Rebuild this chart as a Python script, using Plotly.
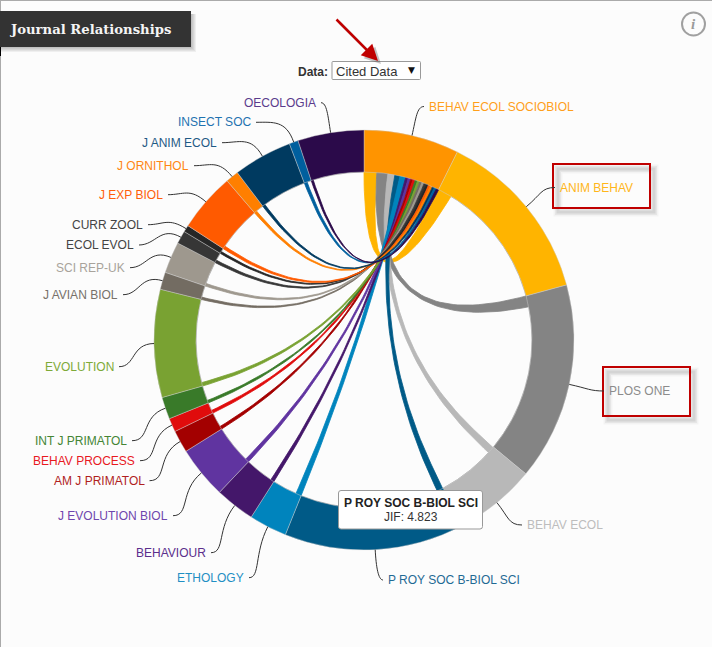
import numpy as np
import plotly.graph_objects as go

# ---------- data ----------
journals = ["BEHAV ECOL SOCIOBIOL", "ANIM BEHAV", "PLOS ONE", "BEHAV ECOL", "P ROY SOC B-BIOL SCI",
            "ETHOLOGY", "BEHAVIOUR", "J EVOLUTION BIOL", "AM J PRIMATOL", "BEHAV PROCESS",
            "INT J PRIMATOL", "EVOLUTION", "J AVIAN BIOL", "SCI REP-UK", "ECOL EVOL", "CURR ZOOL",
            "J EXP BIOL", "J ORNITHOL", "J ANIM ECOL", "INSECT SOC", "OECOLOGIA"]
journal_totals = [264, 484, 548, 223, 501, 105, 110, 145, 62, 38, 61, 299, 48, 87, 36, 19, 163, 36, 163, 25, 183]
# flows between BEHAV ECOL SOCIOBIOL (index 0) and each other journal
flow_targets = journals[1:]
flow_at_source = [44, 38, 24, 18, 20, 9, 9, 8, 8, 8, 8, 8, 8, 8, 8, 7, 8, 7, 8, 8]
flow_at_target = [48, 38, 25, 22, 19, 12, 13, 10, 10, 9, 12, 8, 9, 9, 7, 10, 9, 9, 10, 7]
jif_journal = "P ROY SOC B-BIOL SCI"
jif_value = "4.823"

colors = ["#ff9400", "#ffb400", "#848484", "#b8b8b8", "#005a87", "#0084bd", "#44176a", "#6034a0",
          "#a30000", "#e00c0c", "#397a29", "#79a232", "#736c62", "#9e988e", "#363636", "#262626",
          "#ff5a00", "#ff7f00", "#003a60", "#005f9e", "#2b0a4a"]
label_colors = ["#ff9f1a", "#ffb61a", "#8c8c8c", "#bdbdbd", "#1f6a94", "#1f8fc4", "#5b2f8c", "#6f46ad",
                "#b01f1f", "#e8191f", "#448534", "#7eaa38", "#77716a", "#a8a39b", "#444444", "#444444",
                "#ff5f0a", "#ff8614", "#1f5a85", "#1f72b0", "#5a3b8c"]
# label anchor (leader end) in page pixels
label_anchor_x = [424, 555, 604, 522, 383, 249, 211, 173, 149.5, 140, 132, 119, 123, 130, 139, 148, 168, 194, 222, 256, 321]
label_anchor_y = [106.5, 187.5, 391, 525, 580, 577.7, 552.7, 515.7, 480.7, 460.7, 440.7, 366.7, 294.7, 267.7, 245, 224.7, 194.7, 165.7, 142.7, 122.3, 102.7]

# ---------- geometry ----------
W, H = 712, 647
CX, CY, R, RI = 364, 340, 210, 168
BG = "#fcfcfc"

total = sum(journal_totals)
deg_per_unit = 360 / total
starts = np.concatenate([[0], np.cumsum(journal_totals)[:-1]]) * deg_per_unit
mids = starts + np.array(journal_totals) * deg_per_unit / 2


def polar(angle, r):
    a = np.radians(angle)
    return CX + r * np.sin(a), CY - r * np.cos(a)


def quad(p0, p1, n=50):
    t = np.linspace(0, 1, n)[:, None]
    c = np.array([CX, CY])
    return (1 - t) ** 2 * np.array(p0) + 2 * t * (1 - t) * c + t ** 2 * np.array(p1)


def arc(a0, a1, n=12):
    xs, ys = polar(np.linspace(a0, a1, n), RI)
    return np.column_stack([xs, ys])


def ribbon(sa0, sa1, ta0, ta1):
    return np.vstack([arc(sa0, sa1), quad(polar(sa1, RI), polar(ta0, RI)),
                      arc(ta0, ta1), quad(polar(ta1, RI), polar(sa0, RI))])


fig = go.Figure()

pos = 0.0
for name, src, dst in zip(flow_targets, flow_at_source, flow_at_target):
    i = journals.index(name)
    sa0, sa1 = pos, pos + src * deg_per_unit
    pos = sa1
    ta0, ta1 = starts[i], starts[i] + dst * deg_per_unit
    pts = ribbon(sa0, sa1, ta0, ta1)
    fig.add_trace(go.Scatter(x=pts[:, 0], y=pts[:, 1], mode="lines", fill="toself", fillcolor=colors[i],
                             line=dict(width=0.8, color=colors[i]), hoverinfo="skip", showlegend=False))

fig.add_trace(go.Pie(labels=journals, values=journal_totals, sort=False, direction="clockwise", rotation=0,
                     hole=RI / R, textinfo="none", showlegend=False,
                     marker=dict(colors=colors, line=dict(color="rgba(205,205,205,0.7)", width=0.6)),
                     domain=dict(x=[(CX - R) / W, (CX + R) / W], y=[(H - CY - R) / H, (H - CY + R) / H])))

shapes, annos = [], []


def rect(x0, y0, x1, y1, **kw):
    shapes.append(dict(type="rect", xref="x", yref="y", x0=x0, y0=y0, x1=x1, y1=y1, **kw))


def text(x, y, s, size=12, color="#333", anchor="left", family="Liberation Sans", **kw):
    annos.append(dict(x=x, y=y, xref="x", yref="y", text=s, showarrow=False, xanchor=anchor, yanchor="middle",
                      font=dict(family=family, size=size, color=color), **kw))


# frame
shapes.append(dict(type="line", xref="x", yref="y", x0=0.5, x1=0.5, y0=0, y1=H, line=dict(color="#aaaaaa", width=1), layer="below"))
shapes.append(dict(type="line", xref="x", yref="y", x0=0, x1=W, y0=0.5, y1=0.5, line=dict(color="#aaaaaa", width=1), layer="below"))

# title box with soft shadow
for g in range(5):
    rect(0, 14, 196 - g, 52 - g, fillcolor="rgba(0,0,0,0.05)", line=dict(width=0), layer="below")
rect(0, 47, 1, 56, fillcolor="#000000", line=dict(width=0), layer="below")
rect(0, 11, 191, 47, fillcolor="#333333", line=dict(width=0), layer="below")
text(8, 29, "<b>Journal Relationships</b>", size=13.2, color="#f5f5f5", family="DejaVu Serif")

# data selector
text(330, 71.5, "<b>Data:</b>", size=12, color="#333", anchor="right")
shapes.append(dict(type="path", xref="x", yref="y", fillcolor="#ffffff", line=dict(color="#999999", width=1),
                   path="M333 61.5 L419.5 61.5 Q420.5 61.5 420.5 62.5 L420.5 78.5 Q420.5 79.5 419.5 79.5 L333 79.5 Q332 79.5 332 78.5 L332 62.5 Q332 61.5 333 61.5 Z"))
text(334, 71, "Cited Data", size=13, color="#333")
text(411, 70, "▼", size=9, color="#111", anchor="center", family="DejaVu Sans")

# red call-out arrow
annos.append(dict(x=381, y=64, ax=338, ay=21, xref="x", yref="y", axref="x", ayref="y", text="", showarrow=True,
                  arrowhead=2, arrowsize=1.3, arrowwidth=2.5, arrowcolor="rgba(90,90,90,0.35)"))
annos.append(dict(x=378, y=61, ax=335, ay=18, xref="x", yref="y", axref="x", ayref="y", text="", showarrow=True,
                  arrowhead=2, arrowsize=1.3, arrowwidth=2.5, arrowcolor="#c00000"))

# highlight boxes
for (x0, y0, x1, y1) in [(553, 164, 650, 208), (603, 367, 690, 416)]:
    for w, a in [(9, 0.05), (6, 0.08), (3, 0.12)]:
        rect(x0 + 5, y0 + 5, x1 + 4, y1 + 4, line=dict(color=f"rgba(80,80,80,{a})", width=w), layer="below")
    rect(x0, y0, x1, y1, line=dict(color="#c00000", width=2), layer="below")

# inner edge of ring
shapes.append(dict(type="circle", xref="x", yref="y", x0=CX - RI, x1=CX + RI, y0=CY - RI, y1=CY + RI,
                   line=dict(color="#b0b0b0", width=1), layer="below"))

# leaders and labels
for i, name in enumerate(journals):
    ex, ey = label_anchor_x[i], label_anchor_y[i]
    px, py = polar(mids[i], R)
    d = np.hypot(ex - px, ey - py)
    rx, ry = (px - CX) / R, (py - CY) / R
    side = 1 if ex > px else -1  # direction of travel toward the label
    c1 = (px + rx * 0.55 * d, py + ry * 0.55 * d)
    c2 = (ex - side * min(0.4 * d, abs(ex - px) * 0.6), ey)
    shapes.append(dict(type="path", xref="x", yref="y", line=dict(color="#333333", width=1),
                       path=f"M{px:.1f} {py:.1f} C{c1[0]:.1f} {c1[1]:.1f} {c2[0]:.1f} {c2[1]:.1f} {ex:.1f} {ey:.1f}"))
    if side > 0:
        text(ex + 2.5, ey, name, color=label_colors[i])
    else:
        text(ex - 3, ey, name, color=label_colors[i], anchor="right")

# tooltip
shapes.append(dict(type="path", xref="x", yref="y", fillcolor="#ffffff", line=dict(color="#999999", width=1), layer="above",
                   path="M341 490.5 L480 490.5 Q482.5 490.5 482.5 493 L482.5 526.5 Q482.5 529 480 529 L341 529 Q338.5 529 338.5 526.5 L338.5 493 Q338.5 490.5 341 490.5 Z"))
text(410.5, 502.5, f"<b>{jif_journal}</b>", size=12, color="#222", anchor="center")
text(410.5, 517, f"JIF: {jif_value}", size=12, color="#333", anchor="center")

# info icon
shapes.append(dict(type="circle", xref="x", yref="y", x0=682, x1=705, y0=12.5, y1=35.5, line=dict(color="#a0a0a0", width=2)))
text(693.3, 24, "<i><b>i</b></i>", size=15, color="#9a9a9a", anchor="center", family="Liberation Serif")

fig.update_layout(width=W, height=H, margin=dict(l=0, r=0, t=0, b=0, pad=0), paper_bgcolor=BG, plot_bgcolor=BG,
                  showlegend=False, shapes=shapes, annotations=annos,
                  xaxis=dict(range=[0, W], visible=False, fixedrange=True),
                  yaxis=dict(range=[H, 0], visible=False, fixedrange=True))

fig.write_html("out.html", config={"displayModeBar": False},
               post_script="document.body.style.margin='0';document.documentElement.style.overflow='hidden';")
